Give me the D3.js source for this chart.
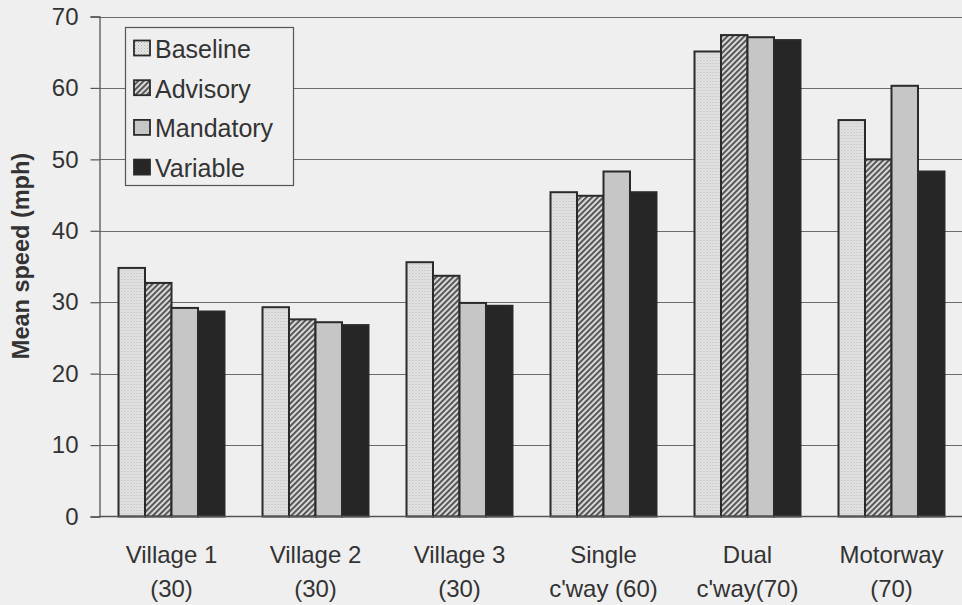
<!DOCTYPE html>
<html>
<head>
<meta charset="utf-8">
<script src="https://cdn.jsdelivr.net/npm/d3@7/dist/d3.min.js"></script>
<style>
  html, body { margin: 0; padding: 0; background: #efefef; }
  svg { display: block; }
</style>
</head>
<body>
<svg id="chart" width="962" height="605"></svg>
<script>
const categories = ["Village 1|(30)", "Village 2|(30)", "Village 3|(30)", "Single|c'way (60)", "Dual|c'way(70)", "Motorway|(70)"];
const seriesNames = ["Baseline", "Advisory", "Mandatory", "Variable"];
const baseline  = [34.8, 29.3, 35.6, 45.4, 65.1, 55.5];
const advisory  = [32.7, 27.6, 33.7, 44.9, 67.4, 50.0];
const mandatory = [29.2, 27.2, 29.9, 48.3, 67.1, 60.3];
const variable  = [28.7, 26.8, 29.5, 45.4, 66.7, 48.3];
const yTicks = [0, 10, 20, 30, 40, 50, 60, 70];
const yTitle = "Mean speed (mph)";

const seriesValues = [baseline, advisory, mandatory, variable];
const fills = ["url(#pBase)", "url(#pAdv)", "#c6c6c6", "#262626"];

const svg = d3.select("#chart");
const font = "'Liberation Sans', Arial, Helvetica, sans-serif";
const ink = "#333";

// patterns
const defs = svg.append("defs");
const pb = defs.append("pattern").attr("id", "pBase").attr("patternUnits", "userSpaceOnUse")
  .attr("width", 3).attr("height", 3);
pb.append("rect").attr("width", 3).attr("height", 3).attr("fill", "#e4e4e4");
pb.append("rect").attr("x", 0).attr("y", 0).attr("width", 1).attr("height", 1).attr("fill", "#b8b8b8");
pb.append("rect").attr("x", 1.5).attr("y", 1.5).attr("width", 1).attr("height", 1).attr("fill", "#c4c4c4");

const pa = defs.append("pattern").attr("id", "pAdv").attr("patternUnits", "userSpaceOnUse")
  .attr("width", 4).attr("height", 4).attr("patternTransform", "rotate(45)");
pa.append("rect").attr("width", 4).attr("height", 4).attr("fill", "#d8d8d8");
pa.append("rect").attr("x", 0).attr("y", 0).attr("width", 1.8).attr("height", 4).attr("fill", "#4a4a4a");

const x0 = d3.scaleBand().domain(categories).range([99.5, 963.5]).paddingInner(0.264).paddingOuter(0.132);
const x1 = d3.scaleBand().domain(seriesNames).range([0, x0.bandwidth()]);
const y = d3.scaleLinear().domain([0, 70]).range([516.5, 16.5]);

// gridlines
svg.append("g").selectAll("line").data(yTicks.filter(d => d > 0)).join("line")
  .attr("x1", 99.5).attr("x2", 962)
  .attr("y1", d => Math.round(y(d)) + 0.5).attr("y2", d => Math.round(y(d)) + 0.5)
  .attr("stroke", "#6a6a6a").attr("stroke-width", 1.2);

// y axis
const yAxis = d3.axisLeft(y).tickValues(yTicks).tickSize(9).tickPadding(12).tickFormat(d3.format("d"));
const gy = svg.append("g").attr("transform", "translate(99.5,0)").call(yAxis);
gy.select(".domain").attr("stroke", "#555").attr("stroke-width", 1.3);
gy.selectAll(".tick line").attr("stroke", "#555").attr("stroke-width", 1.2);
gy.selectAll(".tick text").attr("font-family", font).attr("font-size", 24).attr("fill", ink);

// y title
svg.append("text")
  .attr("transform", "translate(21,256) rotate(-90)")
  .attr("text-anchor", "middle").attr("dominant-baseline", "central")
  .attr("font-family", font).attr("font-size", 23.5).attr("font-weight", "bold").attr("fill", ink)
  .text(yTitle);

// bars
const groups = svg.append("g").selectAll("g").data(categories).join("g")
  .attr("transform", d => "translate(" + x0(d) + ",0)");
groups.selectAll("rect").data((d, i) => seriesNames.map((s, j) => ({ s, j, v: seriesValues[j][i] }))).join("rect")
  .attr("x", d => x1(d.s))
  .attr("y", d => y(d.v))
  .attr("width", x1.bandwidth())
  .attr("height", d => y(0) - y(d.v))
  .attr("fill", d => fills[d.j])
  .attr("stroke", "#2a2a2a").attr("stroke-width", 2);

// x axis line
svg.append("line").attr("x1", 99.5).attr("x2", 962).attr("y1", y(0)).attr("y2", y(0))
  .attr("stroke", "#555").attr("stroke-width", 1.5);

// x labels
const xl = svg.append("g").selectAll("text").data(categories).join("text")
  .attr("x", d => x0(d) + x0.bandwidth() / 2)
  .attr("y", 563)
  .attr("text-anchor", "middle")
  .attr("font-family", font).attr("font-size", 24).attr("fill", ink);
xl.each(function (d) {
  const parts = d.split("|");
  const t = d3.select(this);
  parts.forEach((p, k) => {
    t.append("tspan").attr("x", x0(d) + x0.bandwidth() / 2).attr("dy", k === 0 ? 0 : 34).text(p);
  });
});

// legend
const lg = svg.append("g");
lg.append("rect").attr("x", 125.5).attr("y", 27.5).attr("width", 168).attr("height", 158)
  .attr("fill", "#efefef").attr("stroke", "#555").attr("stroke-width", 1.2);
const items = lg.selectAll("g").data(seriesNames).join("g")
  .attr("transform", (d, i) => "translate(0," + (48 + i * 39.7) + ")");
items.append("rect").attr("x", 134).attr("y", -7.5).attr("width", 16).attr("height", 15)
  .attr("fill", (d, i) => fills[i]).attr("stroke", "#2a2a2a").attr("stroke-width", 1.8);
items.append("text").attr("x", 155).attr("y", 1).attr("dominant-baseline", "central")
  .attr("font-family", font).attr("font-size", 25).attr("fill", ink).text(d => d);
</script>
</body>
</html>
